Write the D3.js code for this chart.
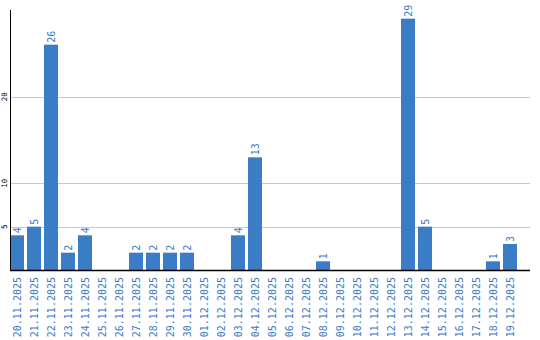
<!DOCTYPE html>
<html>
<head>
<meta charset="utf-8">
<script src="https://cdn.jsdelivr.net/npm/d3@7"></script>
<style>
  html, body { margin: 0; padding: 0; background: #fff; }
  svg { display: block; }
</style>
</head>
<body>
<script>
const categories = ["20.11.2025","21.11.2025","22.11.2025","23.11.2025","24.11.2025","25.11.2025","26.11.2025","27.11.2025","28.11.2025","29.11.2025","30.11.2025","01.12.2025","02.12.2025","03.12.2025","04.12.2025","05.12.2025","06.12.2025","07.12.2025","08.12.2025","09.12.2025","10.12.2025","11.12.2025","12.12.2025","13.12.2025","14.12.2025","15.12.2025","16.12.2025","17.12.2025","18.12.2025","19.12.2025"];
const values = [4,5,26,2,4,0,0,2,2,2,2,0,0,4,13,0,0,0,1,0,0,0,0,29,5,0,0,0,1,3];
const yTicks = [5,10,20];
const yMax = 30;

(function () {
const W = 540, H = 340;
const mLeft = 10, mRight = 530, mTop = 10, mBottom = 270;
const blue = "#3b7dc4";
const textBlue = "#3a7bc6";
const mono = "'DejaVu Sans Mono', monospace";

const svg = d3.select("body").append("svg").attr("width", W).attr("height", H);

const x = d3.scaleBand().domain(categories).range([mLeft, mLeft + 17 * 30 - 3])
  .paddingInner(3 / 17).paddingOuter(0).align(0);
const y = d3.scaleLinear().domain([0, yMax]).range([mBottom, mTop]);

const rows = values.map((v, i) => ({c: categories[i], v})).filter(d => d.v > 0);

// grid lines
svg.append("g").selectAll("line").data(yTicks).join("line")
  .attr("x1", mLeft).attr("x2", mRight)
  .attr("y1", d => Math.round(y(d)) + 0.5).attr("y2", d => Math.round(y(d)) + 0.5)
  .attr("stroke", "#c8c8c8").attr("stroke-width", 1);

// y tick labels
svg.append("g").selectAll("text").data(yTicks).join("text")
  .attr("transform", d => `translate(7,${y(d)}) rotate(-90)`)
  .attr("text-anchor", "middle")
  .attr("font-family", mono).attr("font-size", 7.5).attr("fill", "#000")
  .text(d => d);

// bars
svg.append("g").selectAll("rect").data(rows).join("rect")
  .attr("x", d => x(d.c)).attr("width", x.bandwidth())
  .attr("y", d => y(d.v)).attr("height", d => mBottom - y(d.v))
  .attr("fill", blue);

// value labels
svg.append("g").selectAll("text").data(rows).join("text")
  .attr("transform", d => `translate(${x(d.c) + x.bandwidth() / 2 + 4},${y(d.v) - 2}) rotate(-90)`)
  .attr("text-anchor", "start")
  .attr("font-family", mono).attr("font-size", 10).attr("fill", textBlue)
  .text(d => d.v);

// axes lines
svg.append("line").attr("x1", mLeft + 0.5).attr("x2", mLeft + 0.5).attr("y1", mTop).attr("y2", mBottom + 1)
  .attr("stroke", "#000").attr("stroke-width", 1);
svg.append("line").attr("x1", mLeft).attr("x2", mRight).attr("y1", mBottom + 0.5).attr("y2", mBottom + 0.5)
  .attr("stroke", "#000").attr("stroke-width", 1.5);

// x labels
svg.append("g").selectAll("text").data(categories).join("text")
  .attr("transform", d => `translate(${x(d) + x.bandwidth() / 2 + 3.7},277) rotate(-90)`)
  .attr("text-anchor", "end")
  .attr("font-family", mono).attr("font-size", 10).attr("fill", textBlue)
  .text(d => d);
})();
</script>
</body>
</html>
